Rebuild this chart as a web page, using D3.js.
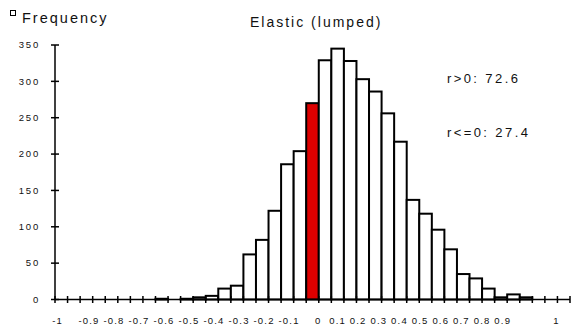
<!DOCTYPE html>
<html lang="en">
<head>
    <meta charset="UTF-8">
    <title>Elastic (lumped)</title>
    <script src="https://d3js.org/d3.v7.min.js"></script>
    <style>
        body {
            margin: 0;
            padding: 0;
            background-color: #fff;
            font-family: "Liberation Sans", Arial, sans-serif;
        }
        svg { display: block; }
        .bar { stroke: #000; stroke-width: 2; }
        .axis-line { stroke: #000; stroke-width: 1.5; }
        .tick-mark { stroke: #000; stroke-width: 1.5; }
        .y-label { font-size: 9.5px; letter-spacing: 1.8px; fill: #111; }
        .x-label { font-size: 9.5px; letter-spacing: 1.2px; fill: #111; }
    </style>
</head>
<body>
    <div id="chart"></div>

    <script>
        // histogram bins (upper limit of each bin) and counts
        const binLimits = [
            -1, -0.95, -0.9, -0.85, -0.8, -0.75, -0.7, -0.65, -0.6, -0.55,
            -0.5, -0.45, -0.4, -0.35, -0.3, -0.25, -0.2, -0.15, -0.1, -0.05,
            0, 0.05, 0.1, 0.15, 0.2, 0.25, 0.3, 0.35, 0.4, 0.45,
            0.5, 0.55, 0.6, 0.65, 0.7, 0.75, 0.8, 0.85, 0.9, 0.95, 1
        ];
        const frequencies = [
            0, 0, 0, 0, 0, 0, 0, 0, 1, 0,
            1, 3, 5, 15, 19, 62, 82, 122, 186, 204,
            270, 329, 345, 328, 303, 286, 256, 217, 137, 118,
            96, 69, 35, 29, 15, 3, 7, 3, 0, 0, 0
        ];
        const highlightBin = 0;

        const yTicks = [0, 50, 100, 150, 200, 250, 300, 350];
        const xTickLabels = ["-1", "-0.9", "-0.8", "-0.7", "-0.6", "-0.5", "-0.4", "-0.3", "-0.2", "-0.1",
                             "0", "0.1", "0.2", "0.3", "0.4", "0.5", "0.6", "0.7", "0.8", "0.9", "1"];

        const chartTitle = "Elastic (lumped)";
        const seriesName = "Frequency";
        const notes = ["r>0: 72.6", "r<=0: 27.4"];

        const width = 571, height = 329;
        const plot = { left: 55, right: 570, top: 45, bottom: 299.5 };

        const svg = d3.select("#chart")
            .append("svg")
            .attr("width", width)
            .attr("height", height);

        const xScale = d3.scaleBand()
            .domain(binLimits)
            .range([plot.left, plot.right])
            .padding(0);

        const yScale = d3.scaleLinear()
            .domain([0, 350])
            .range([plot.bottom, plot.top]);

        const data = binLimits.map((b, i) => ({ bin: b, count: frequencies[i] }));

        // bars
        svg.selectAll(".bar")
            .data(data.filter(d => d.count > 0))
            .enter()
            .append("rect")
            .attr("class", "bar")
            .attr("x", d => xScale(d.bin))
            .attr("y", d => yScale(d.count))
            .attr("width", xScale.bandwidth())
            .attr("height", d => yScale(0) - yScale(d.count))
            .attr("fill", d => d.bin === highlightBin ? "#dd0000" : "#fff");

        // y axis
        svg.append("line")
            .attr("class", "axis-line")
            .attr("x1", plot.left).attr("x2", plot.left)
            .attr("y1", yScale(0)).attr("y2", yScale(350));

        svg.selectAll(".y-tick")
            .data(yTicks)
            .enter()
            .append("line")
            .attr("class", "tick-mark")
            .attr("x1", plot.left - 4).attr("x2", plot.left + 4)
            .attr("y1", d => yScale(d)).attr("y2", d => yScale(d));

        svg.selectAll(".y-label")
            .data(yTicks)
            .enter()
            .append("text")
            .attr("class", "y-label")
            .attr("x", 40)
            .attr("y", d => yScale(d) + 3.3)
            .attr("text-anchor", "end")
            .text(d => d);

        // x axis
        svg.append("line")
            .attr("class", "axis-line")
            .attr("x1", plot.left).attr("x2", plot.right)
            .attr("y1", yScale(0)).attr("y2", yScale(0));

        const boundaries = binLimits.map(b => xScale(b)).concat([xScale.range()[1]]);
        svg.selectAll(".x-tick")
            .data(boundaries)
            .enter()
            .append("line")
            .attr("class", "tick-mark")
            .attr("x1", d => d).attr("x2", d => d)
            .attr("y1", yScale(0) - 3.5).attr("y2", yScale(0) + 3.5);

        // x labels are one spaced row of text, as in the original
        const gapAfter = { "-1": 4, "-0.1": 4, "0": 2, "0.9": 11 };
        const labelRow = xTickLabels
            .map((t, i) => i === xTickLabels.length - 1 ? t : t + " ".repeat(gapAfter[t] || 1))
            .join("");
        svg.append("text")
            .attr("class", "x-label")
            .attr("xml:space", "preserve")
            .style("white-space", "pre")
            .attr("x", 52.2)
            .attr("y", 324)
            .text(labelRow);

        // title
        svg.append("text")
            .attr("x", 250)
            .attr("y", 27)
            .style("font-size", "14px")
            .style("letter-spacing", "2px")
            .attr("fill", "#111")
            .text(chartTitle);

        // legend
        svg.append("rect")
            .attr("x", 10.5).attr("y", 10.5)
            .attr("width", 5).attr("height", 5)
            .attr("fill", "#fff")
            .attr("stroke", "#000")
            .attr("stroke-width", 1);

        svg.append("text")
            .attr("x", 22)
            .attr("y", 23)
            .style("font-size", "14.5px")
            .style("letter-spacing", "2px")
            .attr("fill", "#111")
            .text(seriesName);

        // share annotations
        svg.selectAll(".note")
            .data(notes)
            .enter()
            .append("text")
            .attr("class", "note")
            .attr("x", 447)
            .attr("y", (d, i) => 83 + i * 54)
            .style("font-size", "13px")
            .style("letter-spacing", "2.4px")
            .attr("fill", "#111")
            .text(d => d);
    </script>
</body>
</html>
